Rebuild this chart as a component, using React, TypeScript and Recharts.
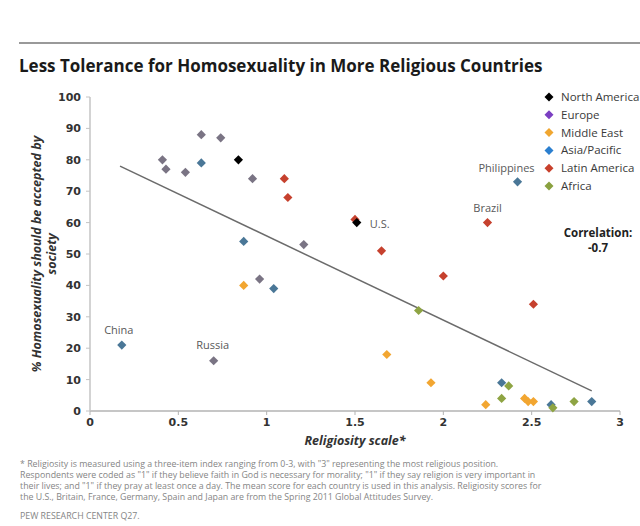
import React from "react";
import {
  ScatterChart,
  Scatter,
  XAxis,
  YAxis,
  ReferenceLine,
  ReferenceDot,
} from "recharts";

type Pt = { x: number; y: number; name?: string };

// religiosity (x) vs % saying homosexuality should be accepted (y)
const northAmerica: Pt[] = [
  { x: 0.84, y: 80, name: "Canada" },
  { x: 1.51, y: 60, name: "U.S." },
];
const europe: Pt[] = [
  { x: 0.41, y: 80 },
  { x: 0.43, y: 77 },
  { x: 0.54, y: 76 },
  { x: 0.63, y: 88 },
  { x: 0.74, y: 87 },
  { x: 0.92, y: 74 },
  { x: 0.96, y: 42 },
  { x: 1.21, y: 53 },
  { x: 0.7, y: 16, name: "Russia" },
];
const middleEast: Pt[] = [
  { x: 0.87, y: 40 },
  { x: 1.68, y: 18 },
  { x: 1.93, y: 9 },
  { x: 2.24, y: 2 },
  { x: 2.46, y: 4 },
  { x: 2.48, y: 3 },
  { x: 2.51, y: 3 },
];
const asiaPacific: Pt[] = [
  { x: 0.18, y: 21, name: "China" },
  { x: 0.63, y: 79 },
  { x: 0.87, y: 54 },
  { x: 1.04, y: 39 },
  { x: 2.42, y: 73, name: "Philippines" },
  { x: 2.33, y: 9 },
  { x: 2.61, y: 2 },
  { x: 2.84, y: 3 },
];
const latinAmerica: Pt[] = [
  { x: 1.1, y: 74 },
  { x: 1.12, y: 68 },
  { x: 1.5, y: 61 },
  { x: 1.65, y: 51 },
  { x: 2.0, y: 43 },
  { x: 2.25, y: 60, name: "Brazil" },
  { x: 2.51, y: 34 },
];
const africa: Pt[] = [
  { x: 1.86, y: 32 },
  { x: 2.37, y: 8 },
  { x: 2.33, y: 4 },
  { x: 2.62, y: 1 },
  { x: 2.74, y: 3 },
];

const trendLine = [
  { x: 0.17, y: 78 },
  { x: 2.84, y: 6.4 },
];

const xTicks = [0, 0.5, 1, 1.5, 2, 2.5, 3];
const yTicks = [0, 10, 20, 30, 40, 50, 60, 70, 80, 90, 100];

const footnote = [
  '* Religiosity is measured using a three-item index ranging from 0-3, with "3" representing the most religious position.',
  'Respondents were coded as "1" if they believe faith in God is necessary for morality; "1" if they say religion is very important in',
  'their lives; and "1" if they pray at least once a day. The mean score for each country is used in this analysis. Religiosity scores for',
  "the U.S., Britain, France, Germany, Spain and Japan are from the Spring 2011 Global Attitudes Survey.",
];

const series = [
  { name: "Latin America", data: latinAmerica, fill: "#c6412e", legend: "#c8402c" },
  { name: "Europe", data: europe, fill: "#7a7484", legend: "#7b3fc2" },
  { name: "Middle East", data: middleEast, fill: "#f2a631", legend: "#f0a630" },
  { name: "Asia/Pacific", data: asiaPacific, fill: "#4a7797", legend: "#2b7fcf" },
  { name: "Africa", data: africa, fill: "#8ea443", legend: "#8aa140" },
  { name: "North America", data: northAmerica, fill: "#000", legend: "#000" },
];
const legendOrder = ["North America", "Europe", "Middle East", "Asia/Pacific", "Latin America", "Africa"];

const allPoints = series.flatMap((s) => s.data);
const callouts = [
  { name: "China", dx: -3, dy: -11, anchor: "middle" },
  { name: "Russia", dx: -1, dy: -12, anchor: "middle" },
  { name: "U.S.", dx: 13, dy: 5, anchor: "start" },
  { name: "Philippines", dx: -11, dy: -10, anchor: "middle" },
  { name: "Brazil", dx: 0, dy: -11, anchor: "middle" },
];

const FONT = "'Open Sans', 'Noto Sans', sans-serif";

const Diamond = (props: any) => {
  const { cx, cy, fill } = props;
  const r = 4.6;
  return (
    <path
      d={`M${cx},${cy - r}L${cx + r},${cy}L${cx},${cy + r}L${cx - r},${cy}Z`}
      fill={fill}
    />
  );
};

const calloutLabel = (text: string, dx: number, dy: number, anchor: string) => (p: any) => {
  const vb = p.viewBox || {};
  return (
    <text
      x={vb.x + (vb.width || 0) / 2 + dx}
      y={vb.y + (vb.height || 0) / 2 + dy}
      textAnchor={anchor}
      fontSize={11}
      fill="#595959"
      fontFamily={FONT}
    >
      {text}
    </text>
  );
};

export default function App() {
  return (
    <div
      style={{
        position: "absolute",
        left: 0,
        top: 0,
        width: 640,
        height: 526,
        overflow: "hidden",
        background: "#fff",
        fontFamily: FONT,
      }}
    >
      <ScatterChart width={640} height={526} margin={{ top: 97, right: 20, bottom: 85, left: 30 }}>
        <XAxis
          type="number"
          dataKey="x"
          domain={[0, 3]}
          ticks={xTicks}
          height={30}
          tick={{ fill: "#333", fontSize: 11, fontWeight: 700, fontFamily: "'DejaVu Sans', sans-serif" }}
          axisLine={{ stroke: "#b3b3b3", strokeWidth: 1.5 }}
          tickLine={{ stroke: "#b3b3b3" }}
          tickSize={4}
          tickMargin={3}
        />
        <YAxis
          type="number"
          dataKey="y"
          domain={[0, 100]}
          ticks={yTicks}
          width={60}
          tick={{ fill: "#333", fontSize: 11, fontWeight: 700, fontFamily: "'DejaVu Sans', sans-serif" }}
          axisLine={{ stroke: "#c4c4c4", strokeWidth: 1.5 }}
          tickLine={{ stroke: "#c4c4c4" }}
          tickSize={4}
          tickMargin={5}
        />
        <ReferenceLine
          segment={trendLine}
          stroke="#6b6b6b"
          strokeWidth={1.5}
          ifOverflow="visible"
        />
        {series.map((s) => (
          <Scatter
            key={s.name}
            name={s.name}
            data={s.data}
            fill={s.fill}
            shape={<Diamond />}
            isAnimationActive={false}
          />
        ))}
        {callouts.map((c) => {
          const p = allPoints.find((d) => d.name === c.name)!;
          return (
            <ReferenceDot
              key={c.name}
              x={p.x}
              y={p.y}
              r={0}
              fill="none"
              stroke="none"
              label={calloutLabel(c.name, c.dx, c.dy, c.anchor)}
            />
          );
        })}
      </ScatterChart>

      <svg
        width={640}
        height={526}
        style={{ position: "absolute", left: 0, top: 0, pointerEvents: "none" }}
        fontFamily={FONT}
      >
        <line x1={19} x2={640} y1={43} y2={43} stroke="#999" strokeWidth={2} />
        <text x={19} y={72} fontSize={17} fontWeight={700} fill="#1a1a1a">
          Less Tolerance for Homosexuality in More Religious Countries
        </text>
        <text
          transform="translate(41,254) rotate(-90)"
          textAnchor="middle"
          fontSize={12.5}
          fontWeight={700}
          fontStyle="italic"
          fill="#333"
        >
          <tspan x={0} y={0}>% Homosexuality should be accepted by</tspan>
          <tspan x={0} y={15}>society</tspan>
        </text>
        <text x={355} y={445} textAnchor="middle" fontSize={12.5} fontWeight={700} fontStyle="italic" fill="#333">
          Religiosity scale*
        </text>
        <text x={598} y={237} textAnchor="middle" fontSize={11.5} fontWeight={700} fill="#222">
          Correlation:
        </text>
        <text x={598} y={252} textAnchor="middle" fontSize={11.5} fontWeight={700} fill="#222">
          -0.7
        </text>
        {footnote.map((line, i) => (
          <text key={i} x={20} y={467 + i * 11} fontSize={8.8} fill="#858585">
            {line}
          </text>
        ))}
        <text x={20} y={519} fontSize={8.8} fill="#858585">
          PEW RESEARCH CENTER Q27.
        </text>
        {legendOrder.map((name, i) => {
          const s = series.find((d) => d.name === name)!;
          const y = 97 + i * 17.8;
          return (
            <g key={name}>
              <path d={`M549,${y - 4.5}L553.5,${y}L549,${y + 4.5}L544.5,${y}Z`} fill={s.legend} />
              <text x={561} y={y + 4} fontSize={11.5} fill="#3a3a3a">
                {name}
              </text>
            </g>
          );
        })}
      </svg>
    </div>
  );
}
